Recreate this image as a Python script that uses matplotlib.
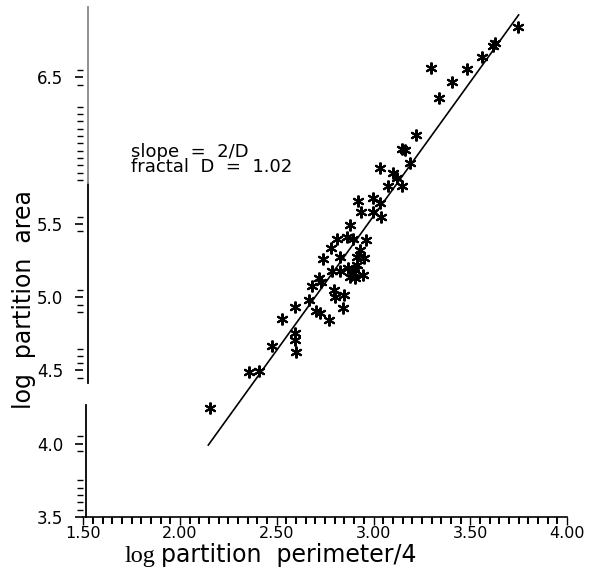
import matplotlib
matplotlib.use("Agg")
import matplotlib.pyplot as plt
import matplotlib.transforms as mtransforms

# ---- data ----
log_perimeter = [2.156, 2.359, 2.406, 2.475, 2.528, 2.592, 2.592, 2.596, 2.598, 2.668,
                 2.681, 2.704, 2.722, 2.769, 2.717, 2.730, 2.741, 2.780, 2.813, 2.785,
                 2.798, 2.803, 2.846, 2.842, 2.829, 2.865, 2.880, 2.829, 2.866, 2.880,
                 2.906, 2.915, 2.915, 2.898, 2.906, 2.946, 2.932, 2.963, 2.953, 2.894,
                 2.918, 2.935, 2.997, 3.036, 2.998, 3.038, 3.077, 3.147, 3.036, 3.101,
                 3.120, 3.148, 3.165, 3.191, 3.222, 3.297, 3.337, 3.407, 3.484, 3.562,
                 3.628, 3.618, 3.745]
log_area = [4.247, 4.490, 4.499, 4.664, 4.852, 4.930, 4.753, 4.708, 4.628, 4.978,
            5.080, 4.906, 4.890, 4.848, 5.128, 5.101, 5.258, 5.338, 5.396, 5.179,
            5.049, 5.004, 5.015, 4.925, 5.278, 5.408, 5.493, 5.176, 5.198, 5.140,
            5.186, 5.277, 5.220, 5.163, 5.129, 5.152, 5.323, 5.391, 5.266, 5.396,
            5.660, 5.584, 5.677, 5.641, 5.584, 5.550, 5.759, 5.759, 5.880, 5.846,
            5.812, 6.009, 6.002, 5.916, 6.108, 6.568, 6.363, 6.466, 6.556, 6.638,
            6.738, 6.718, 6.845]

fit_x = [2.146, 3.750]
fit_y = [3.991, 6.927]

x_ticks = [1.5, 2.0, 2.5, 3.0, 3.5, 4.0]
x_tick_labels = ["1.50", "2.00", "2.50", "3.00", "3.50", "4.00"]
y_ticks = [3.5, 4.0, 4.5, 5.0, 5.5, 6.5]
y_tick_labels = ["3.5", "4.0", "4.5", "5.0", "5.5", "6.5"]
y_minor = [3.55, 3.6, 3.65, 3.7, 3.75, 3.95, 4.05, 4.45, 4.55, 4.6, 4.65,
           4.9, 4.95, 5.05, 5.45, 5.55, 5.8, 5.85, 5.9, 5.95, 6.0, 6.05, 6.1,
           6.15, 6.2, 6.25, 6.3, 6.45, 6.55]
annotation_lines = ["slope  =  2/D", "fractal  D  =  1.02"]

# ---- figure ----
W, H = 609, 578
fig = plt.figure(figsize=(W / 100, H / 100), dpi=100)
sans = "DejaVu Sans"
serif = "Liberation Serif"

x0, x1 = 83.3, 567.0
ytop_px, ybot_px = 7.0, 517.0
ax = fig.add_axes([x0 / W, (H - ybot_px) / H, (x1 - x0) / W, (ybot_px - ytop_px) / H])
ax.set_xlim(1.5, 4.0)
ax.set_ylim(3.5, 6.981)

ax.plot(fit_x, fit_y, color="black", lw=1.2, zorder=2)
ax.plot(log_perimeter, log_area, linestyle="none", marker=(6, 2, 0), ms=8.5,
        mec="black", mfc="black", mew=1.5, zorder=3)

for s in ("top", "right", "left"):
    ax.spines[s].set_visible(False)
ax.spines["bottom"].set_linewidth(1.2)

# broken left axis line
tr = mtransforms.blended_transform_factory(ax.transAxes, ax.transData)
ax.plot([0.006, 0.006], [3.5, 4.265], color="black", lw=1.3, transform=tr, clip_on=False)
ax.plot([0.009, 0.009], [4.413, 5.78], color="black", lw=1.3, transform=tr, clip_on=False)
ax.plot([0.009, 0.009], [5.78, 6.981], color="#888888", lw=1.3, transform=tr, clip_on=False)

ax.set_xticks(x_ticks)
ax.set_xticklabels(x_tick_labels, fontfamily=sans, fontsize=11.5)
ax.set_xticks([1.5 + 0.05 * i for i in range(51)], minor=True)
ax.tick_params(axis="x", which="major", direction="out", length=5.5, width=1.0, pad=1)
ax.tick_params(axis="x", which="minor", direction="out", length=5, width=1.4)

ax.set_yticks(y_ticks)
ax.set_yticklabels(y_tick_labels, fontfamily=sans, fontsize=12)
ax.set_yticks(y_minor, minor=True)
ax.tick_params(axis="y", which="major", direction="out", length=5.5, width=1.2, pad=9)
ax.tick_params(axis="y", which="minor", direction="out", length=4.5, width=1.0)

# annotation (one text object, two tight lines)
fig.text(131 / W, 1 - 172 / H, "\n".join(annotation_lines), fontfamily=sans,
         fontsize=13, va="baseline", ha="left", linespacing=0.82)

# axis labels
fig.text(125 / W, 1 - 562 / H, "log", fontfamily=serif, fontsize=17.5, va="baseline")
fig.text(161 / W, 1 - 562 / H, "partition  perimeter/4", fontfamily=sans, fontsize=17,
         va="baseline")
fig.text(24 / W, 1 - 300 / H, "log  partition  area", fontfamily=sans, fontsize=17,
         rotation=90, ha="center", va="center")

fig.savefig("out.png", dpi=100)
